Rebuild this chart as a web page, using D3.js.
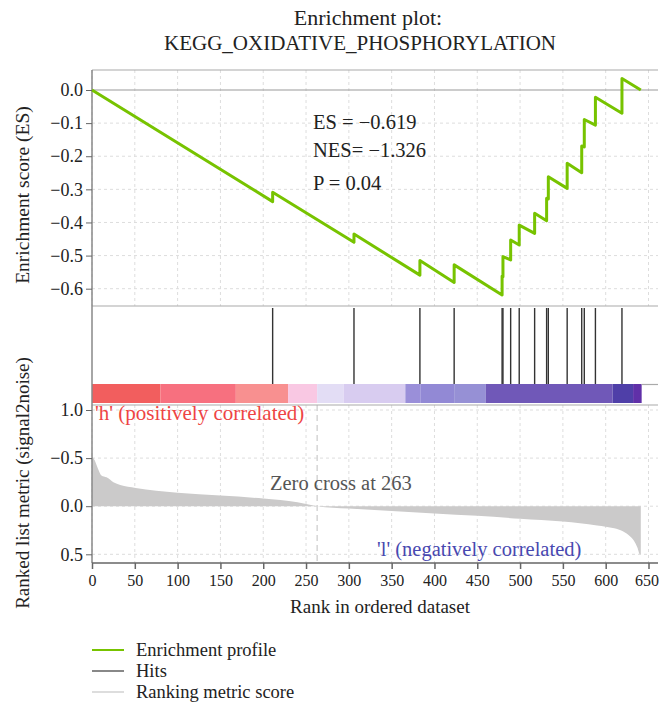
<!DOCTYPE html>
<html lang="en">
  <head>
    <meta charset="UTF-8" />
    <title>Enrichment plot</title>
    <style>
      body { margin: 0; background: #fff; }
      svg text { font-family: "Liberation Serif", "DejaVu Serif", serif; fill: #222; }
      .grid line { stroke: #ddd; stroke-dasharray: 3,3; }
      .frame { stroke: #aaa; stroke-width: 1.2; }
      .tick text { font-size: 18px; }
      .xaxis .tick text { font-size: 16px; }
    </style>
  </head>
  <body>
    <script src="https://cdn.jsdelivr.net/npm/d3@7"></script>
    <script>

      // running enrichment score, read at every corner of the curve
      var esRank  = [0, 211, 211, 306, 306, 383, 383, 423, 423, 479, 479, 480, 480, 489, 489,
                     499, 499, 517, 517, 531, 531, 533, 533, 555, 555, 572, 572, 575, 575,
                     588, 588, 619, 619, 641];
      var esScore = [0, -0.337, -0.309, -0.460, -0.435, -0.559, -0.515, -0.581, -0.528,
                     -0.619, -0.562, -0.564, -0.503, -0.513, -0.453, -0.468, -0.408,
                     -0.433, -0.372, -0.395, -0.327, -0.329, -0.262, -0.297, -0.221,
                     -0.250, -0.169, -0.172, -0.089, -0.106, -0.022, -0.070, 0.035, 0];

      // gene set hits
      var hitRanks = [211, 306, 383, 423, 479, 480, 489, 499, 517, 531, 533, 555, 572, 575, 588, 619];

      // ranked list metric
      var metricRank  = [0, 3, 7, 11, 17, 25, 33, 51, 75, 100, 150, 200, 240, 263,
                         300, 350, 400, 450, 500, 550, 590, 610, 620, 628, 633, 637, 640, 641];
      var metricValue = [-0.52, -0.48, -0.39, -0.32, -0.30, -0.25, -0.22, -0.19, -0.16, -0.14,
                         -0.11, -0.08, -0.04, 0, 0.025, 0.05, 0.075, 0.10, 0.13, 0.16,
                         0.20, 0.23, 0.26, 0.31, 0.36, 0.43, 0.50, 0.50];

      // colour bar bins
      var binStart = [0, 80, 168, 229, 263, 294, 366, 384, 423, 460, 608, 632];
      var binEnd   = [80, 168, 229, 263, 294, 366, 384, 423, 460, 608, 632, 642];
      var binColor = ["#f25e5e", "#f7707f", "#f89090", "#f9c8e3", "#e3ddf5", "#d8ccf0",
                      "#9a8fd9", "#9289d5", "#9690d5", "#7058b8", "#4f3fa8", "#6030a8"];

      var xTicks = [0, 50, 100, 150, 200, 250, 300, 350, 400, 450, 500, 550, 600, 650];
      var esTicks = [0, -0.1, -0.2, -0.3, -0.4, -0.5, -0.6];
      var metricTicks = [-1.0, -0.5, 0, 0.5];
      var metricTickLabels = ["1.0", "\u22120.5", "0.0", "0.5"];
      var zeroCross = 263;

      var w = 660, h = 703;
      var left = 92, right = 658;

      var svg = d3.select("body").append("svg")
        .attr("width", w)
        .attr("height", h);

      var xScale = d3.scaleLinear().domain([0, 650]).range([left, 648.5]);

      var top1 = 70, bottom1 = 306;
      var yES = d3.scaleLinear().domain([0, -0.6]).range([90, 288.7]);

      var top3 = 405, bottom3 = 563;
      var yMetric = d3.scaleLinear().domain([-1.0, 0.5]).range([410, 554.3]);

      var fmt = function(d) { return d3.format(".1f")(d).replace("-", "\u2212"); };

      // ---- grids
      var g1 = svg.append("g").attr("class", "grid");
      g1.selectAll(".v").data(xTicks).enter().append("line")
        .attr("x1", function(d) { return xScale(d); })
        .attr("x2", function(d) { return xScale(d); })
        .attr("y1", top1).attr("y2", bottom1);
      g1.selectAll(".hz").data(esTicks.slice(1)).enter().append("line")
        .attr("x1", left).attr("x2", right)
        .attr("y1", function(d) { return yES(d); })
        .attr("y2", function(d) { return yES(d); });

      var g3 = svg.append("g").attr("class", "grid");
      g3.selectAll(".v").data(xTicks).enter().append("line")
        .attr("x1", function(d) { return xScale(d); })
        .attr("x2", function(d) { return xScale(d); })
        .attr("y1", top3).attr("y2", bottom3);
      g3.selectAll(".hz").data(metricTicks).enter().append("line")
        .attr("x1", left).attr("x2", right)
        .attr("y1", function(d) { return yMetric(d); })
        .attr("y2", function(d) { return yMetric(d); });

      // zero line of ES
      svg.append("line")
        .attr("x1", left).attr("x2", right)
        .attr("y1", yES(0)).attr("y2", yES(0))
        .attr("stroke", "#999").attr("stroke-width", 1.2);

      // ---- ranked metric area
      var metric = metricRank.map(function(r, i) { return { r: r, v: metricValue[i] }; });
      var area = d3.area()
        .x(function(d) { return xScale(d.r); })
        .y0(yMetric(0))
        .y1(function(d) { return yMetric(d.v); })
        .curve(d3.curveMonotoneX);
      svg.append("path")
        .datum(metric)
        .attr("d", area)
        .attr("fill", "#cbcaca");

      // zero cross
      svg.append("line")
        .attr("x1", xScale(zeroCross)).attr("x2", xScale(zeroCross))
        .attr("y1", top3).attr("y2", bottom3)
        .attr("stroke", "#d5d5d5").attr("stroke-width", 1.5)
        .attr("stroke-dasharray", "6,4");

      // ---- colour bar
      svg.selectAll(".bin").data(binStart).enter().append("rect")
        .attr("x", function(d) { return xScale(d); })
        .attr("width", function(d, i) { return xScale(binEnd[i]) - xScale(d); })
        .attr("y", 384).attr("height", 19)
        .attr("fill", function(d, i) { return binColor[i]; });

      // ---- frames
      [top1, bottom1, top3].forEach(function(y) {
        svg.append("line").attr("class", "frame")
          .attr("x1", left).attr("x2", right).attr("y1", y).attr("y2", y);
      });
      svg.append("line").attr("class", "frame")
        .attr("x1", xScale(binEnd[binEnd.length - 1])).attr("x2", right)
        .attr("y1", 384.5).attr("y2", 384.5);
      svg.append("line")
        .attr("x1", left).attr("x2", left).attr("y1", top1).attr("y2", bottom3)
        .attr("stroke", "#888").attr("stroke-width", 1.5);

      // ---- hits
      svg.selectAll(".hit").data(hitRanks).enter().append("line")
        .attr("x1", function(d) { return xScale(d); })
        .attr("x2", function(d) { return xScale(d); })
        .attr("y1", 308).attr("y2", 384)
        .attr("stroke", "#333").attr("stroke-width", 1.4);

      // ---- ES curve
      var es = esRank.map(function(r, i) { return { r: r, v: esScore[i] }; });
      var line = d3.line()
        .x(function(d) { return xScale(d.r); })
        .y(function(d) { return yES(d.v); });
      svg.append("path")
        .datum(es)
        .attr("d", line)
        .attr("fill", "none")
        .attr("stroke", "#77c300")
        .attr("stroke-width", 3)
        .attr("stroke-linejoin", "round");

      // ---- axes
      var yAxis1 = d3.axisLeft(yES).tickValues(esTicks).tickSize(6).tickPadding(3).tickFormat(fmt);
      svg.append("g").attr("transform", "translate(" + left + ",0)").call(yAxis1)
        .call(function(g) { g.select(".domain").remove(); });

      var yAxis3 = d3.axisLeft(yMetric).tickValues(metricTicks).tickSize(6).tickPadding(3)
        .tickFormat(function(d, i) { return metricTickLabels[i]; });
      svg.append("g").attr("transform", "translate(" + left + ",0)").call(yAxis3)
        .call(function(g) { g.select(".domain").remove(); });

      var xAxis = d3.axisBottom(xScale).tickValues(xTicks).tickSize(6).tickPadding(6);
      var xg = svg.append("g").attr("class", "xaxis")
        .attr("transform", "translate(0," + bottom3 + ")").call(xAxis);
      xg.select(".domain").attr("d", "M" + left + ",0H" + right).attr("stroke", "#666").attr("stroke-width", 1.5);
      xg.selectAll(".tick line").attr("stroke", "#666").attr("stroke-width", 1.5);
      xg.selectAll(".tick").filter(function(d) { return d === 650; }).select("text").attr("dx", -2);
      svg.selectAll(".tick line").attr("stroke", "#666");

      // ---- texts
      svg.append("text").attr("x", 368).attr("y", 25).attr("text-anchor", "middle")
        .style("font-size", "22px").text("Enrichment plot:");
      svg.append("text").attr("x", 360).attr("y", 50).attr("text-anchor", "middle")
        .style("font-size", "21px").text("KEGG_OXIDATIVE_PHOSPHORYLATION");

      var stats = ["ES = \u22120.619", "NES= \u22121.326", "P = 0.04"];
      var statY = [129, 157, 190];
      svg.selectAll(".stat").data(stats).enter().append("text")
        .attr("x", 313).attr("y", function(d, i) { return statY[i]; })
        .style("font-size", "20.5px").text(function(d) { return d; });

      svg.append("text").attr("transform", "translate(29,195) rotate(-90)")
        .attr("text-anchor", "middle").style("font-size", "19.5px").text("Enrichment score (ES)");
      svg.append("text").attr("transform", "translate(29,483) rotate(-90)")
        .attr("text-anchor", "middle").style("font-size", "19px").text("Ranked list metric (signal2noise)");
      svg.append("text").attr("x", 380).attr("y", 613).attr("text-anchor", "middle")
        .style("font-size", "19px").text("Rank in ordered dataset");

      svg.append("text").attr("x", 95).attr("y", 420)
        .style("font-size", "21px").style("fill", "#ee4444").text("'h' (positively correlated)");
      svg.append("text").attr("x", 270).attr("y", 490)
        .style("font-size", "20.5px").style("fill", "#555").text("Zero cross at " + zeroCross);
      svg.append("text").attr("x", 377).attr("y", 556)
        .style("font-size", "20.5px").style("fill", "#4848b0").text("'l' (negatively correlated)");

      // ---- legend
      var legendText = ["Enrichment profile", "Hits", "Ranking metric score"];
      var legendColor = ["#77c300", "#888", "#ddd"];
      var legendY = [650, 671, 692];
      var lg = svg.append("g");
      lg.selectAll("line").data(legendText).enter().append("line")
        .attr("x1", 92).attr("x2", 124)
        .attr("y1", function(d, i) { return legendY[i]; })
        .attr("y2", function(d, i) { return legendY[i]; })
        .attr("stroke", function(d, i) { return legendColor[i]; })
        .attr("stroke-width", 2);
      lg.selectAll("text").data(legendText).enter().append("text")
        .attr("x", 136)
        .attr("y", function(d, i) { return legendY[i] + 6; })
        .style("font-size", "18.5px").text(function(d) { return d; });

    </script>
  </body>
</html>
